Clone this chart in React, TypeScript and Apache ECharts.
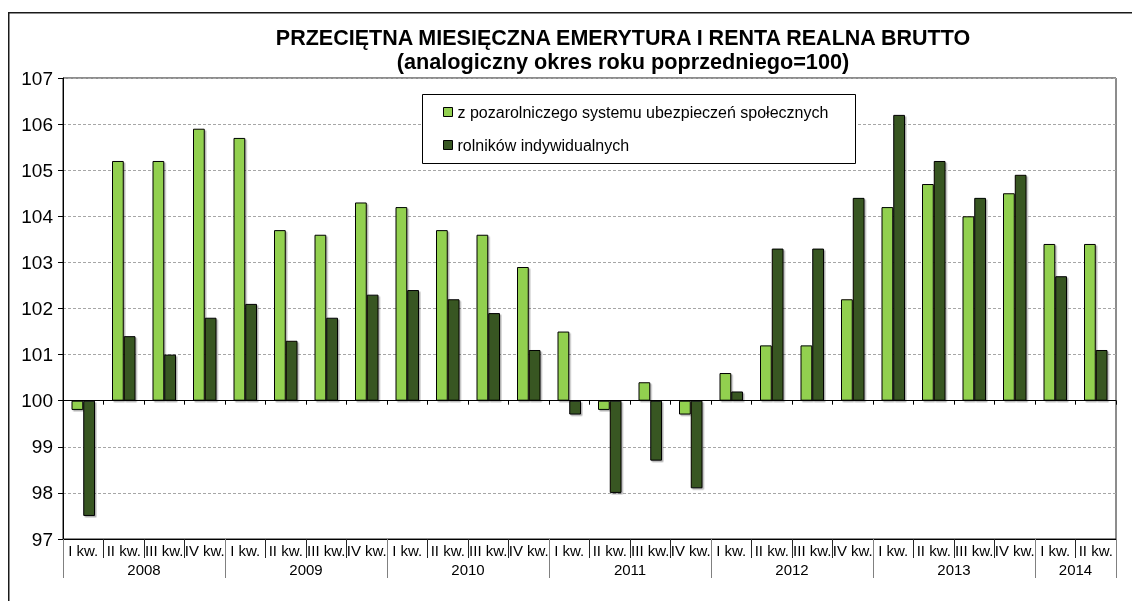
import React, { useEffect, useRef } from "react";
import * as echarts from "echarts";

const BASE = 100;
const years = ["2008", "2009", "2010", "2011", "2012", "2013", "2014"];
const quarterNames = ["I kw.", "II kw.", "III kw.", "IV kw."];
const quartersPerYear = [4, 4, 4, 4, 4, 4, 2];

const seriesNames = [
  "z pozarolniczego systemu ubezpieczeń społecznych",
  "rolników indywidualnych",
];

// z pozarolniczego systemu ubezpieczeń społecznych
const pozarolniczy = [
  99.8, 105.2, 105.2, 105.9,
  105.7, 103.7, 103.6, 104.3,
  104.2, 103.7, 103.6, 102.9,
  101.5, 99.8, 100.4, 99.7,
  100.6, 101.2, 101.2, 102.2,
  104.2, 104.7, 104.0, 104.5,
  103.4, 103.4,
];

// rolników indywidualnych
const rolnicy = [
  97.5, 101.4, 101.0, 101.8,
  102.1, 101.3, 101.8, 102.3,
  102.4, 102.2, 101.9, 101.1,
  99.7, 98.0, 98.7, 98.1,
  100.2, 103.3, 103.3, 104.4,
  106.2, 105.2, 104.4, 104.9,
  102.7, 101.1,
];

const yMin = 97;
const yMax = 107;
const yStep = 1;

const titleText = "PRZECIĘTNA MIESIĘCZNA EMERYTURA I RENTA REALNA BRUTTO";
const subtitleText = "(analogiczny okres roku poprzedniego=100)";

const FONT = "'Liberation Sans', Arial, sans-serif";

export default function App() {
  const ref = useRef<HTMLDivElement>(null);

  useEffect(() => {
    if (!ref.current) return;
    const chart = echarts.init(ref.current, null, { renderer: "svg" });

    const quarterCats: string[] = [];
    years.forEach((y, i) => {
      quarterNames.slice(0, quartersPerYear[i]).forEach((q) => quarterCats.push(q));
    });
    const total = quarterCats.length;
    const yearAxisData: string[] = new Array(total + 1).fill("");
    const boundaries = new Set<number>([0]);
    let acc = 0;
    years.forEach((y, i) => {
      const c = quartersPerYear[i];
      const mid = acc + c / 2;
      yearAxisData[Math.floor(mid)] = y;
      acc += c;
      boundaries.add(acc);
    });

    const option: any = {
      animation: false,
      textStyle: { fontFamily: FONT, color: "#000" },
      title: {
        text: titleText,
        subtext: subtitleText,
        left: 623,
        top: 26,
        textAlign: "center",
        padding: 0,
        itemGap: 1,
        textStyle: { fontFamily: FONT, fontSize: 21.5, fontWeight: "bold", color: "#000", lineHeight: 23 },
        subtextStyle: { fontFamily: FONT, fontSize: 21.7, fontWeight: "bold", color: "#000", lineHeight: 23 },
      },
      graphic: [
        {
          type: "polyline",
          z: 0,
          silent: true,
          shape: { points: [[8.75, 610], [8.75, 12.75], [1140, 12.75]] },
          style: { fill: "none", stroke: "#1a1a1a", lineWidth: 1.5 },
        },
        {
          type: "rect",
          z: 3,
          silent: true,
          shape: { x: 422.5, y: 94.5, width: 433, height: 69 },
          style: { fill: "#fff", stroke: "#000", lineWidth: 1 },
        },
      ],
      legend: {
        orient: "vertical",
        left: 443,
        top: 104,
        padding: 0,
        itemGap: 17,
        itemWidth: 9,
        itemHeight: 9,
        icon: "rect",
        z: 5,
        data: seriesNames,
        textStyle: { fontFamily: FONT, fontSize: 16, color: "#000" },
        itemStyle: { borderColor: "#000", borderWidth: 1 },
      },
      grid: {
        left: 63,
        top: 78,
        width: 1053,
        height: 461,
        show: true,
        borderColor: "#1a1a1a",
        borderWidth: 1,
        backgroundColor: "transparent",
      },
      yAxis: {
        type: "value",
        min: yMin - BASE,
        max: yMax - BASE,
        interval: yStep,
        axisLine: { show: true, lineStyle: { color: "#000", width: 1 } },
        axisTick: { show: true, length: 5, lineStyle: { color: "#000" } },
        axisLabel: {
          fontSize: 19,
          color: "#000",
          margin: 10,
          fontFamily: FONT,
          formatter: (v: number) => String(Math.round(v + BASE)),
        },
        splitLine: { show: true, lineStyle: { color: "#a6a6a6", type: [3, 2], width: 1 } },
      },
      xAxis: [
        {
          type: "category",
          data: quarterCats,
          position: "bottom",
          axisLine: { show: true, onZero: true, lineStyle: { color: "#000", width: 1 } },
          axisTick: { show: true, length: 4, interval: 0, lineStyle: { color: "#000" } },
          axisLabel: { show: false },
          splitLine: { show: false },
          z: 4,
        },
        {
          type: "category",
          data: quarterCats,
          position: "bottom",
          axisLine: { show: true, onZero: false, lineStyle: { color: "#000", width: 1 } },
          axisTick: { show: true, length: 19, interval: 0, lineStyle: { color: "#262626" } },
          axisLabel: { show: true, interval: 0, fontSize: 15, color: "#000", margin: 4, fontFamily: FONT },
          splitLine: { show: false },
        },
        {
          type: "category",
          data: yearAxisData,
          boundaryGap: false,
          position: "bottom",
          axisLine: { show: false, onZero: false },
          axisTick: {
            show: true,
            length: 39,
            interval: (index: number) => boundaries.has(index),
            lineStyle: { color: "#808080" },
          },
          axisLabel: { show: true, interval: 0, fontSize: 15, color: "#000", margin: 23, fontFamily: FONT },
          splitLine: { show: false },
        },
      ],
      series: [
        {
          name: seriesNames[0],
          type: "bar",
          xAxisIndex: 0,
          data: pozarolniczy.map((v) => v - BASE),
          barGap: "0%",
          barCategoryGap: "42%",
          itemStyle: {
            color: "#92d050",
            borderColor: "#000",
            borderWidth: 1,
            shadowColor: "rgba(0,0,0,0.3)",
            shadowOffsetX: 1.5,
            shadowOffsetY: 1.5,
            shadowBlur: 1,
          },
        },
        {
          name: seriesNames[1],
          type: "bar",
          xAxisIndex: 0,
          data: rolnicy.map((v) => v - BASE),
          barGap: "0%",
          barCategoryGap: "42%",
          itemStyle: {
            color: "#385723",
            borderColor: "#000",
            borderWidth: 1,
            shadowColor: "rgba(0,0,0,0.3)",
            shadowOffsetX: 1.5,
            shadowOffsetY: 1.5,
            shadowBlur: 1,
          },
        },
      ],
    };

    chart.setOption(option);
    return () => chart.dispose();
  }, []);

  return (
    <div
      ref={ref}
      style={{ position: "fixed", left: 0, top: 0, width: 1132, height: 601, overflow: "hidden" }}
    />
  );
}
